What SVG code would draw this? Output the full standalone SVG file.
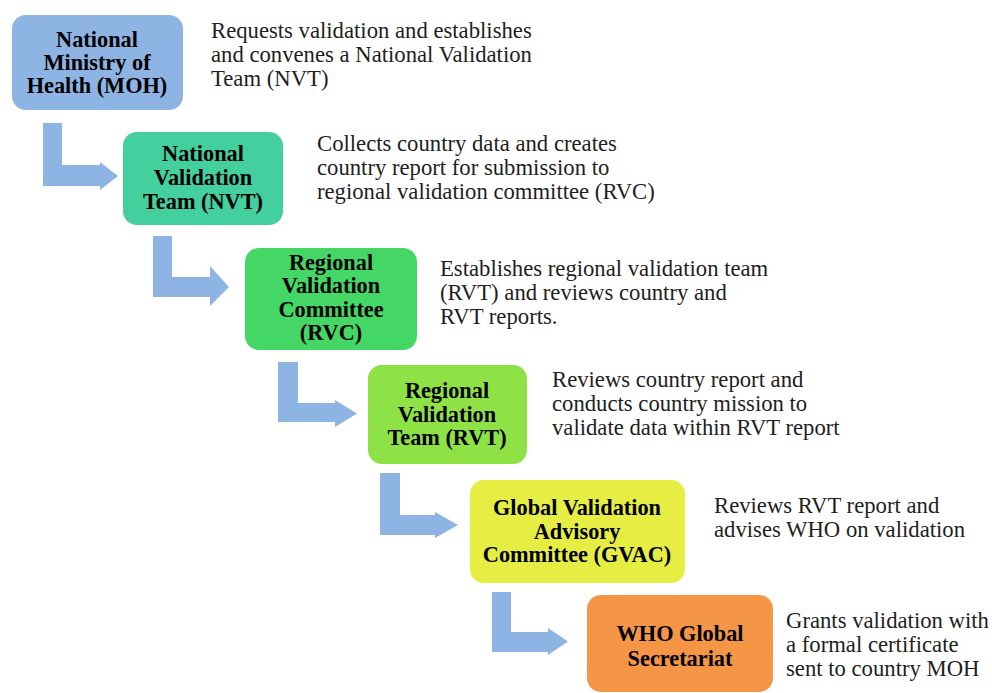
<svg xmlns="http://www.w3.org/2000/svg" width="992" height="693" viewBox="0 0 992 693">
<style>
.node text{font-family:'Liberation Serif','DejaVu Serif',serif;font-weight:bold;font-size:22.3px;fill:#000;text-anchor:middle}
.desc{font-family:'Liberation Serif','DejaVu Serif',serif;font-size:22.7px;fill:#1e1e1e}
.arrow{fill:#8eb4e3}
</style>
<rect width="992" height="693" fill="#ffffff"/>
<g id="connectors">
<path class="arrow" d="M43,123 H62 V165 H100 V162 L118,176 L100,190 V186 H43 Z"/>
<path class="arrow" d="M153,236 H172 V277 H210 V266 L229,287 L210,306 V297 H153 Z"/>
<path class="arrow" d="M278,362 H298 V403 H335 V400 L357,413.5 L335,427 V422 H278 Z"/>
<path class="arrow" d="M380,473 H400 V515 H435 V512 L458,525 L435,538 V535 H380 Z"/>
<path class="arrow" d="M492,592 H511 V632 H548 V628 L568,641.5 L548,655 V652 H492 Z"/>
</g>
<g id="moh" class="node">
<rect x="12" y="15" width="171" height="95" rx="14" fill="#8eb4e3"/>
<text x="97" y="47">National</text>
<text x="97" y="70">Ministry of</text>
<text x="97" y="93">Health (MOH)</text>
</g>
<g id="nvt" class="node">
<rect x="123" y="132" width="160" height="93" rx="14" fill="#44cf9f"/>
<text x="203" y="161">National</text>
<text x="203" y="185">Validation</text>
<text x="203" y="209">Team (NVT)</text>
</g>
<g id="rvc" class="node">
<rect x="245" y="248" width="172" height="102" rx="14" fill="#45d765"/>
<text x="331" y="270">Regional</text>
<text x="331" y="293">Validation</text>
<text x="331" y="317">Committee</text>
<text x="331" y="340">(RVC)</text>
</g>
<g id="rvt" class="node">
<rect x="368" y="365" width="159" height="99" rx="14" fill="#8fe246"/>
<text x="447" y="398">Regional</text>
<text x="447" y="422">Validation</text>
<text x="447" y="445">Team (RVT)</text>
</g>
<g id="gvac" class="node">
<rect x="470" y="480" width="215" height="103" rx="14" fill="#e6ee44"/>
<text x="577" y="515">Global Validation</text>
<text x="577" y="539">Advisory</text>
<text x="577" y="562">Committee (GVAC)</text>
</g>
<g id="who" class="node">
<rect x="587" y="595" width="186" height="97" rx="14" fill="#f59646"/>
<text x="680" y="641">WHO Global</text>
<text x="680" y="666">Secretariat</text>
</g>
<g id="descriptions">
<text class="desc" x="211" y="38">Requests validation and establishes</text>
<text class="desc" x="211" y="62">and convenes a National Validation</text>
<text class="desc" x="211" y="86">Team (NVT)</text>
<text class="desc" x="317" y="151">Collects country data and creates</text>
<text class="desc" x="317" y="175">country report for submission to</text>
<text class="desc" x="317" y="199">regional validation committee (RVC)</text>
<text class="desc" x="440" y="276">Establishes regional validation team</text>
<text class="desc" x="440" y="300">(RVT) and reviews country and</text>
<text class="desc" x="440" y="324">RVT reports.</text>
<text class="desc" x="552" y="387">Reviews country report and</text>
<text class="desc" x="552" y="411">conducts country mission to</text>
<text class="desc" x="552" y="435">validate data within RVT report</text>
<text class="desc" x="714" y="513">Reviews RVT report and</text>
<text class="desc" x="714" y="537">advises WHO on validation</text>
<text class="desc" x="786" y="628">Grants validation with</text>
<text class="desc" x="786" y="652">a formal certificate</text>
<text class="desc" x="786" y="676">sent to country MOH</text>
</g>
</svg>
